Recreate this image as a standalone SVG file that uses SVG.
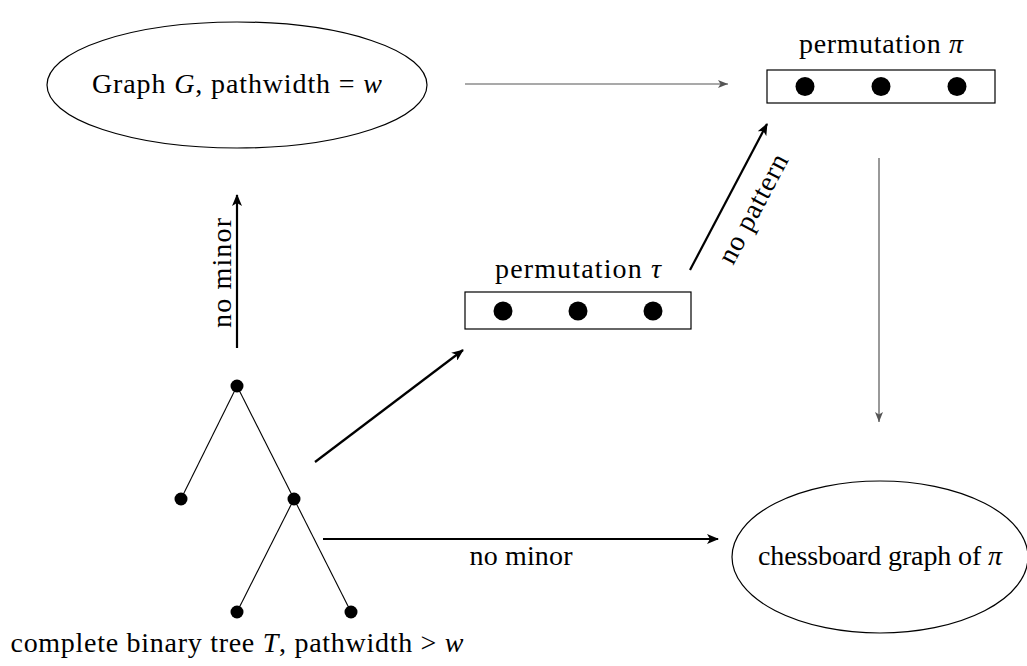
<svg xmlns="http://www.w3.org/2000/svg" width="1027" height="666" viewBox="0 0 1027 666">
<style>
text{font-family:"Liberation Serif","Times New Roman",serif;font-size:28px;fill:#000}
.m{font-style:italic}
.shape{fill:none;stroke:#000;stroke-width:1.2}
.dot{fill:#000}
.thin{stroke:#555;stroke-width:1.2;fill:none}
.thick{stroke:#000;stroke-width:2.2;fill:none}
.edge{stroke:#000;stroke-width:1.1}
</style>
<defs>
<marker id="ag" viewBox="0 0 10 8" refX="10" refY="4" markerWidth="10" markerHeight="8" markerUnits="userSpaceOnUse" orient="auto"><path d="M0,0 L10,4 L0,8 L2.5,4 Z" fill="#555"/></marker>
<marker id="ab" viewBox="0 0 12 10" refX="11" refY="5" markerWidth="12" markerHeight="10" markerUnits="userSpaceOnUse" orient="auto"><path d="M0,0 L12,5 L0,10 L3,5 Z" fill="#000"/></marker>
</defs>
<g id="graphG">
<ellipse class="shape" cx="237" cy="85" rx="190" ry="63"/>
<text x="237" y="93" text-anchor="middle" textLength="290" lengthAdjust="spacing">Graph <tspan class="m">G</tspan>, pathwidth = <tspan class="m">w</tspan></text>
</g>
<g id="permPi">
<text x="881" y="53" text-anchor="middle" textLength="164" lengthAdjust="spacing">permutation <tspan class="m">π</tspan></text>
<rect class="shape" x="767" y="70" width="228" height="33"/>
<circle class="dot" cx="805" cy="86.5" r="9.5"/>
<circle class="dot" cx="881" cy="86.5" r="9.5"/>
<circle class="dot" cx="957" cy="86.5" r="9.5"/>
</g>
<g id="permTau">
<text x="578" y="278" text-anchor="middle" textLength="166" lengthAdjust="spacing">permutation <tspan class="m">τ</tspan></text>
<rect class="shape" x="465" y="292" width="226" height="37"/>
<circle class="dot" cx="503" cy="311" r="9.5"/>
<circle class="dot" cx="578" cy="311" r="9.5"/>
<circle class="dot" cx="653" cy="311" r="9.5"/>
</g>
<g id="chessboard">
<ellipse class="shape" cx="880" cy="557" rx="148" ry="76"/>
<text x="880" y="565" text-anchor="middle" textLength="244" lengthAdjust="spacing">chessboard graph of <tspan class="m">π</tspan></text>
</g>
<g id="treeT">
<line class="edge" x1="237" y1="386" x2="181" y2="499"/>
<line class="edge" x1="237" y1="386" x2="294" y2="499"/>
<line class="edge" x1="294" y1="499" x2="237" y2="612"/>
<line class="edge" x1="294" y1="499" x2="351" y2="612"/>
<circle class="dot" cx="237" cy="386" r="6.5"/>
<circle class="dot" cx="181" cy="499" r="6.5"/>
<circle class="dot" cx="294" cy="499" r="6.5"/>
<circle class="dot" cx="237" cy="612" r="6.5"/>
<circle class="dot" cx="351" cy="612" r="6.5"/>
<text x="237" y="652" text-anchor="middle" textLength="453" lengthAdjust="spacing">complete binary tree <tspan class="m">T</tspan>, pathwidth &gt; <tspan class="m">w</tspan></text>
</g>
<g id="connectors">
<line class="thin" x1="465" y1="84" x2="728" y2="84" marker-end="url(#ag)"/>
<line class="thin" x1="879" y1="158" x2="879" y2="422" marker-end="url(#ag)"/>
<line class="thick" x1="237" y1="348" x2="237" y2="195" marker-end="url(#ab)"/>
<text x="231" y="273" text-anchor="middle" transform="rotate(-90 231 273)" textLength="110" lengthAdjust="spacing">no minor</text>
<line class="thick" x1="315" y1="462" x2="463" y2="350" marker-end="url(#ab)"/>
<line class="thick" x1="690" y1="270" x2="767" y2="124" marker-end="url(#ab)"/>
<text x="761" y="213" text-anchor="middle" transform="rotate(-62.2 761 213)" textLength="120" lengthAdjust="spacing">no pattern</text>
<line class="thick" x1="323" y1="539" x2="718" y2="539" marker-end="url(#ab)"/>
<text x="521" y="565" text-anchor="middle" textLength="103" lengthAdjust="spacing">no minor</text>
</g>
</svg>
